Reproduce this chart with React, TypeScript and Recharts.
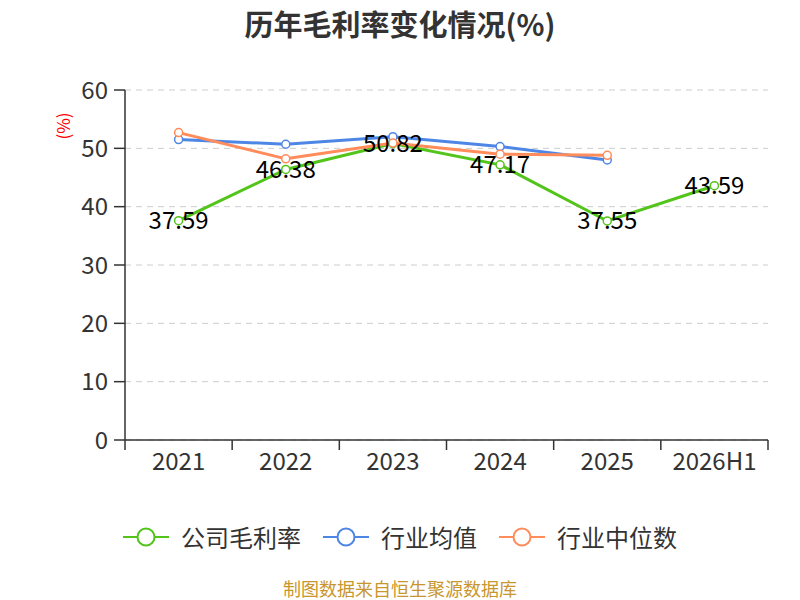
import { LineChart, Line, XAxis, YAxis, CartesianGrid, Legend, LabelList } from 'recharts';

const years = ['2021', '2022', '2023', '2024', '2025', '2026H1'];
const companyMargin = [37.59, 46.38, 50.82, 47.17, 37.55, 43.59];
const industryMean = [51.5, 50.7, 52.0, 50.3, 48.0, null];
const industryMedian = [52.7, 48.2, 50.9, 49.0, 48.8, null];
const yTicks = [0, 10, 20, 30, 40, 50, 60];
const seriesNames = ['公司毛利率', '行业均值', '行业中位数'];

const data = years.map((year, i) => ({
  year,
  company: companyMargin[i],
  mean: industryMean[i],
  median: industryMedian[i],
}));

const GREEN = '#52c41a';
const BLUE = '#4e86e6';
const ORANGE = '#ff8c5a';

const PLOT_WIDTH = 643;
const BAND = PLOT_WIDTH / years.length;

function XTick({ x, y, payload, index }: any) {
  const last = index === years.length - 1;
  return (
    <g>
      <line x1={x - BAND / 2} y1={y} x2={x - BAND / 2} y2={y + 10} stroke="#333" strokeWidth={1.5} />
      {last && <line x1={x + BAND / 2} y1={y} x2={x + BAND / 2} y2={y + 10} stroke="#333" strokeWidth={1.5} />}
      <text x={x} y={y + 13} dy="0.71em" textAnchor="middle" fontSize={24} fill="#333">
        {payload.value}
      </text>
    </g>
  );
}

function LegendContent({ payload }: any) {
  const items = seriesNames
    .map((n) => (payload || []).find((p: any) => p.value === n))
    .filter(Boolean);
  return (
    <div style={{ display: 'flex', justifyContent: 'center', gap: 22 }}>
      {items.map((p: any) => (
        <div key={p.value} style={{ display: 'flex', alignItems: 'center' }}>
          <svg width={46} height={22}>
            <line x1={0} y1={11} x2={46} y2={11} stroke={p.color} strokeWidth={2} />
            <circle cx={23} cy={11} r={8.5} fill="#fff" stroke={p.color} strokeWidth={2} />
          </svg>
          <span style={{ marginLeft: 12, fontSize: 24, color: '#333', lineHeight: '30px' }}>{p.value}</span>
        </div>
      ))}
    </div>
  );
}

export default function App() {
  return (
    <div
      style={{
        position: 'absolute',
        left: 0,
        top: 0,
        width: 800,
        height: 600,
        background: '#fff',
        fontFamily: '"Noto Sans CJK SC", "Noto Sans", sans-serif',
      }}
    >
      <div
        style={{
          position: 'absolute',
          top: 5,
          width: 800,
          textAlign: 'center',
          fontSize: 29,
          fontWeight: 'bold',
          color: '#333',
          lineHeight: '36px',
        }}
      >
        历年毛利率变化情况(%)
      </div>
      <LineChart width={800} height={600} data={data} margin={{ top: 90, right: 32, left: 0, bottom: 120 }}>
        <CartesianGrid vertical={false} stroke="#ccc" strokeDasharray="6 5" />
        <XAxis
          dataKey="year"
          height={40}
          tickSize={0}
          tickMargin={0}
          tickLine={false}
          padding={{ left: BAND / 2, right: BAND / 2 }}
          axisLine={{ stroke: '#333', strokeWidth: 1.5 }}
          tick={<XTick />}
          interval={0}
        />
        <YAxis
          width={125}
          domain={[0, 60]}
          ticks={yTicks}
          tickSize={11}
          tickMargin={6}
          tick={{ fontSize: 24, fill: '#333' }}
          axisLine={{ stroke: '#333', strokeWidth: 1.5 }}
          tickLine={{ stroke: '#333', strokeWidth: 1.5 }}
          label={({ viewBox }: any) => (
            <text
              x={viewBox.x + 62}
              y={viewBox.y + 36}
              transform={`rotate(-90 ${viewBox.x + 62} ${viewBox.y + 36})`}
              textAnchor="middle"
              dominantBaseline="central"
              fontSize={17}
              fill="#ff0000"
            >
              (%)
            </text>
          )}
        />
        <Legend
          layout="horizontal"
          verticalAlign="middle"
          align="center"
          content={<LegendContent />}
          wrapperStyle={{ top: 522, left: 0, width: 800 }}
        />
        <Line
          type="linear"
          dataKey="company"
          name="公司毛利率"
          stroke={GREEN}
          strokeWidth={3}
          dot={{ r: 4, fill: '#fff', stroke: GREEN, strokeWidth: 1.5 }}
          activeDot={false}
          isAnimationActive={false}
        />
        <Line
          type="linear"
          dataKey="mean"
          name="行业均值"
          stroke={BLUE}
          strokeWidth={3}
          dot={{ r: 4, fill: '#fff', stroke: BLUE, strokeWidth: 1.5 }}
          activeDot={false}
          isAnimationActive={false}
        />
        <Line
          type="linear"
          dataKey="median"
          name="行业中位数"
          stroke={ORANGE}
          strokeWidth={3}
          dot={{ r: 4, fill: '#fff', stroke: ORANGE, strokeWidth: 1.5 }}
          activeDot={false}
          isAnimationActive={false}
        />
        <Line
          type="linear"
          dataKey="company"
          stroke="none"
          dot={false}
          activeDot={false}
          legendType="none"
          isAnimationActive={false}
        >
          <LabelList
            dataKey="company"
            content={(p: any) => (
              <text x={p.x} y={p.y - 2} textAnchor="middle" dominantBaseline="central" fontSize={24} fill="#000">
                {Number(p.value).toFixed(2)}
              </text>
            )}
          />
        </Line>
      </LineChart>
      <div
        style={{
          position: 'absolute',
          top: 578,
          width: 800,
          textAlign: 'center',
          fontSize: 18,
          color: '#c8962e',
          lineHeight: '20px',
        }}
      >
        制图数据来自恒生聚源数据库
      </div>
    </div>
  );
}
